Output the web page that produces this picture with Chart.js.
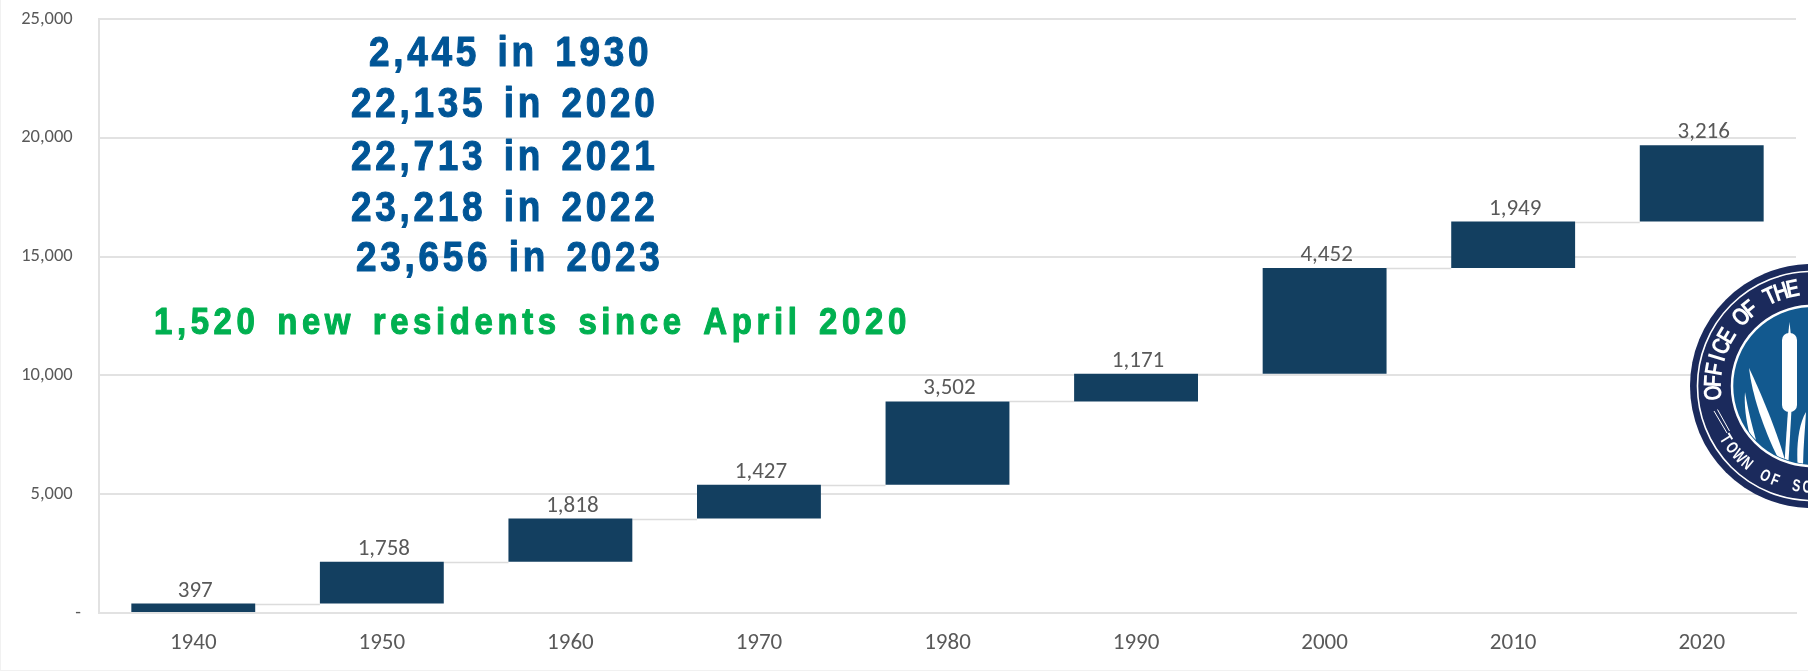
<!DOCTYPE html>
<html><head><meta charset="utf-8">
<style>
html,body{margin:0;padding:0;background:#fff;width:1808px;height:671px;overflow:hidden}
#wrap{position:absolute;left:0;top:0;width:1808px;height:671px}
#wrap::after{content:"";position:absolute;left:0;top:0;width:1807px;height:670px;border-left:1px solid #f1f1f1;border-bottom:1px solid #f1f1f1;pointer-events:none}
canvas{position:absolute;left:0;top:0}
#seal{position:absolute;left:0;top:0;pointer-events:none}
</style>
<script src="https://cdn.jsdelivr.net/npm/chart.js@4/dist/chart.umd.min.js"></script>
</head><body>
<div id="wrap"><canvas id="c" width="1808" height="671"></canvas>
<svg id="seal" width="1808" height="671" viewBox="0 0 1808 671" xmlns="http://www.w3.org/2000/svg">
<defs><clipPath id="innerClip"><circle cx="1812" cy="386" r="78"/></clipPath></defs>
<circle cx="1812" cy="386" r="122" fill="#1b2a5c"/>
<circle cx="1812" cy="386" r="114.5" fill="none" stroke="#fff" stroke-width="1.6"/>
<circle cx="1812" cy="386" r="80" fill="#12598f" stroke="#fff" stroke-width="2.5"/>
<g id="sealText"></g>
<path d="M1714 411 L1727 433 M1717.5 409.5 L1729.5 431" stroke="#fff" stroke-width="1" fill="none"/>
<g clip-path="url(#innerClip)" fill="#fff">
<path d="M1789.5 322 L1791 336 L1788 336 Z"/>
<rect x="1782" y="333" width="15" height="79" rx="7"/>
<path d="M1788 410 L1791.5 410 L1788 470 L1784 470 Z"/>
<path d="M1749 368 C1762 395 1778 435 1785 460 L1778 458 C1764 430 1752 395 1749 368 Z"/>
<path d="M1745 392 C1748 410 1752 425 1756 440 L1750 436 C1746 420 1744 405 1745 392 Z"/>
<path d="M1806 412 C1798 425 1796 450 1798 470 L1803 470 C1803 450 1805 430 1806 412 Z"/>
</g>
</svg></div>
<script>
const categories=["1940","1950","1960","1970","1980","1990","2000","2010","2020"];
const increments=[397,1758,1818,1427,3502,1171,4452,1949,3216];
const bases=[0,397,2155,3973,5400,8902,10073,14525,16474];
const yTicks=[0,5000,10000,15000,20000,25000];
const notes=["2,445 in 1930","22,135 in 2020","22,713 in 2021","23,218 in 2022","23,656 in 2023"];
const greenNote="1,520 new residents since April 2020";
const sealTop="OFFICE OF THE TOWN";
const sealBottom="TOWN OF SOUTH";

const GREY="#595959",GRID="#e2e2e2",BAR="#133f60";
const LABEL_FONT="Carlito,'Open Sans','Noto Sans',sans-serif";
const HEAD_FONT="'Liberation Sans',sans-serif";

function placeArc(str,startDeg,stepDeg,r,size,weight,inward,sx){
  const g=document.getElementById("sealText");
  [...str].forEach((ch,i)=>{
    if(ch===" ")return;
    const a=startDeg+stepDeg*i;
    const t=document.createElementNS("http://www.w3.org/2000/svg","text");
    t.textContent=ch;
    t.setAttribute("font-family",HEAD_FONT);t.setAttribute("font-weight",weight);
    t.setAttribute("font-size",size);t.setAttribute("fill","#fff");t.setAttribute("text-anchor","middle");
    t.setAttribute("transform",`translate(1812 386) rotate(${a}) translate(0 ${inward?r:-r}) scale(${sx} 1)`);
    g.appendChild(t);
  });
}
placeArc(sealTop,-94,6.9,91,25,700,false,.8);
placeArc(sealBottom,58.5,-6.2,106.5,17,700,true,.72);

const extras={id:"extras",
 beforeDatasetsDraw(ch){
  const {ctx,scales:{y}}=ch;const meta=ch.getDatasetMeta(0);
  ctx.save();ctx.strokeStyle="#dcdcdc";ctx.lineWidth=1.5;
  for(let i=0;i<meta.data.length-1;i++){
    const p=Math.round(y.getPixelForValue(bases[i]+increments[i]))+.5;
    ctx.beginPath();ctx.moveTo(meta.data[i].x+meta.data[i].width/2,p);
    ctx.lineTo(meta.data[i+1].x-meta.data[i+1].width/2,p);ctx.stroke();
  }
  ctx.restore();
 },
 afterDatasetsDraw(ch){
  const {ctx,scales:{y}}=ch;const meta=ch.getDatasetMeta(0);
  ctx.save();ctx.fillStyle=GREY;ctx.font="23px "+LABEL_FONT;ctx.textAlign="center";ctx.textBaseline="alphabetic";
  meta.data.forEach((b,i)=>ctx.fillText(increments[i].toLocaleString("en-US"),b.x+2,y.getPixelForValue(bases[i]+increments[i])-7));
  ctx.restore();
  const xs=[369,351,351,351,356],ys=[66,117,170,221,271];
  const heavy=(t,px,py,sx,col)=>{ctx.save();ctx.translate(px,py);ctx.scale(sx,1);ctx.fillStyle=col;ctx.strokeStyle=col;ctx.lineWidth=1.1;ctx.lineJoin="round";ctx.fillText(t,0,0);ctx.strokeText(t,0,0);ctx.restore();};
  ctx.save();ctx.textBaseline="alphabetic";ctx.textAlign="left";
  ctx.font="bold 42px "+HEAD_FONT;ctx.letterSpacing="4.2px";ctx.wordSpacing="4px";
  notes.forEach((t,i)=>heavy(t,xs[i],ys[i],.88,"#005596"));
  ctx.font="bold 37.5px "+HEAD_FONT;ctx.letterSpacing="5.2px";ctx.wordSpacing="4.5px";
  heavy(greenNote,154,334,.88,"#00b050");
  ctx.restore();
 }};
new Chart(document.getElementById("c"),{
 type:"bar",
 data:{labels:categories,datasets:[{data:increments.map((v,i)=>[bases[i],bases[i]+v]),backgroundColor:BAR,borderWidth:0,categoryPercentage:1,barPercentage:0.657}]},
 options:{responsive:false,animation:false,
  layout:{padding:{left:0,right:12,top:0,bottom:0}},
  plugins:{legend:{display:false},tooltip:{enabled:false}},
  scales:{
   x:{grid:{display:false,drawTicks:false},border:{color:GRID,width:2},
      afterFit(s){s.height=58;s.paddingRight=0;s.paddingLeft=0;},
      ticks:{color:GREY,font:{size:23,family:LABEL_FONT},padding:16,maxRotation:0}},
   y:{min:0,max:25000,afterBuildTicks(s){s.ticks=yTicks.map(v=>({value:v}));},
      afterFit(s){s.width=99;s.paddingTop=19;s.paddingBottom=0;},
      grid:{color:GRID,lineWidth:2,drawTicks:false},border:{color:GRID,width:2},
      ticks:{color:GREY,font:{size:18.5,family:LABEL_FONT},padding:18,callback:v=>v===0?"-":v.toLocaleString("en-US")+"\u00a0\u00a0"}}
  }},
 plugins:[extras]});
</script></body></html>
